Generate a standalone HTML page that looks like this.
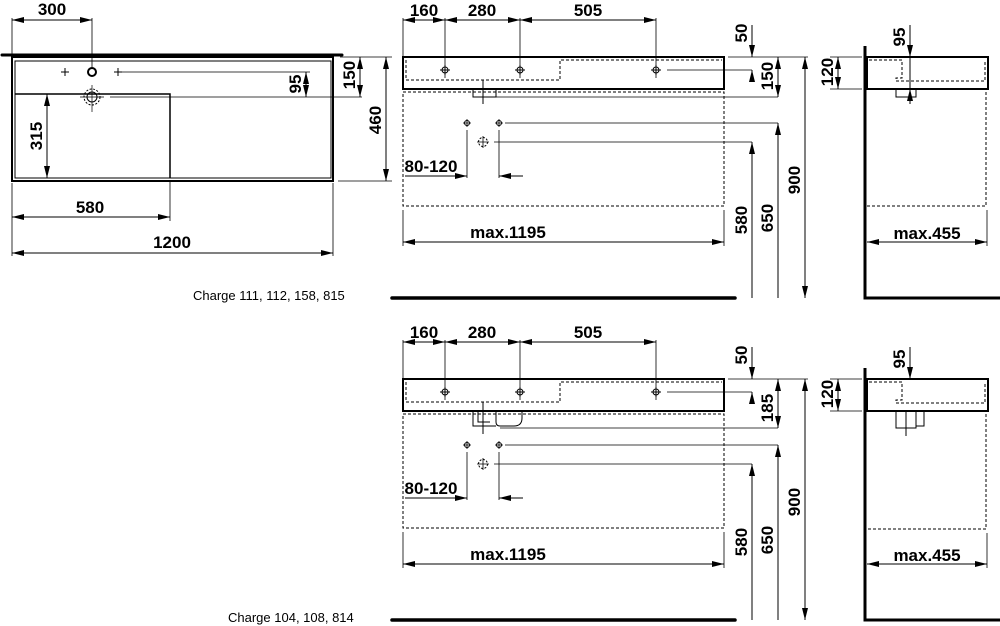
<!DOCTYPE html>
<html><head><meta charset="utf-8"><style>
html,body{margin:0;padding:0;background:#fff;}
svg{display:block}
.d{font-family:"Liberation Sans",sans-serif;font-weight:bold;font-size:17px;fill:#000}
.c{font-family:"Liberation Sans",sans-serif;font-size:13px;fill:#000}
</style></head><body>
<svg width="1000" height="626" viewBox="0 0 1000 626" xmlns="http://www.w3.org/2000/svg">
<defs>
<marker id="a" viewBox="0 0 12 6" refX="12" refY="3" markerWidth="12" markerHeight="6" markerUnits="userSpaceOnUse" orient="auto-start-reverse"><path d="M0,0L12,3L0,6z" fill="#000"/></marker>
</defs>
<g fill="none" stroke="#000" stroke-width="1">
<line x1="2" y1="55" x2="342" y2="55" stroke-width="3" stroke-linecap="round"/>
<rect x="12" y="57" width="321" height="124" stroke-width="2"/>
<rect x="15" y="61" width="316" height="117"/>
<polyline points="15,94 170,94 170,178" stroke-width="1.5"/>
<path d="M61,72h8M65,68v8M114,72h8M118,68v8"/>
<circle cx="92" cy="72" r="4" stroke-width="2"/>
<circle cx="92" cy="97" r="8" stroke-dasharray="2,1.5"/>
<circle cx="92" cy="97" r="5"/>
<path d="M80,97h24M92,85v27" stroke-width="0.7"/>
<path d="M122,72H310M110,97H362" stroke-width="0.8"/>
<path d="M12,18V55M92,18V68M12,183V256M170,180V221M333,183V256M340,57H392M338,181H392" stroke-width="0.8"/>
<line x1="12" y1="20" x2="92" y2="20" marker-start="url(#a)" marker-end="url(#a)"/>
<line x1="306" y1="72" x2="306" y2="97" marker-start="url(#a)" marker-end="url(#a)"/>
<line x1="360" y1="57" x2="360" y2="97" marker-start="url(#a)" marker-end="url(#a)"/>
<line x1="386" y1="57" x2="386" y2="181" marker-start="url(#a)" marker-end="url(#a)"/>
<line x1="47" y1="94" x2="47" y2="178" marker-start="url(#a)" marker-end="url(#a)"/>
<line x1="12" y1="217" x2="170" y2="217" marker-start="url(#a)" marker-end="url(#a)"/>
<line x1="12" y1="253" x2="333" y2="253" marker-start="url(#a)" marker-end="url(#a)"/>
<line x1="392" y1="298" x2="735" y2="298" stroke-width="3.5" stroke-linecap="round"/>

<g id="front">
<rect x="403" y="57" width="321" height="32" stroke-width="2"/>
<path d="M406,60V80H560V60H722" stroke-dasharray="3,2"/>
<path d="M403,92H724V206H403Z" stroke-dasharray="3,2"/>
<path d="M403,18V57M445,18V78M520,18V78M656,18V78" stroke-width="0.8"/>
<line x1="403" y1="20" x2="445" y2="20" marker-start="url(#a)" marker-end="url(#a)"/>
<line x1="445" y1="20" x2="520" y2="20" marker-start="url(#a)" marker-end="url(#a)"/>
<line x1="520" y1="20" x2="656" y2="20" marker-start="url(#a)" marker-end="url(#a)"/>
<path d="M440,70h10M445,65v10M515,70h10M520,65v10M651,70h10M656,65v10"/>
<circle cx="445" cy="70" r="3"/><circle cx="520" cy="70" r="3"/><circle cx="656" cy="70" r="3"/>
<path d="M667,70H752" stroke-width="0.8"/>
<circle cx="467" cy="123" r="2.5"/><circle cx="499" cy="123" r="2.5"/><circle cx="483" cy="142" r="4.5" stroke-dasharray="2,1.5"/>
<path d="M463,123h8M467,119v8M495,123h8M499,119v8M477,142h12M483,136v12" stroke-width="0.8"/>
<path d="M505,123H778M494,142H752M467,130V178M499,130V178" stroke-width="0.8"/>
<line x1="405" y1="176" x2="467" y2="176" marker-end="url(#a)"/>
<line x1="523" y1="176" x2="499" y2="176" marker-end="url(#a)"/>
<path d="M403,210V246M724,210V246" stroke-width="0.8"/>
<line x1="403" y1="242" x2="724" y2="242" marker-start="url(#a)" marker-end="url(#a)"/>
<path d="M728,57H808" stroke-width="0.8"/>
<line x1="752" y1="25" x2="752" y2="57" marker-end="url(#a)"/>
<line x1="752" y1="298" x2="752" y2="142" marker-end="url(#a)"/>
<line x1="778" y1="298" x2="778" y2="123" marker-end="url(#a)"/>
<line x1="805" y1="57" x2="805" y2="298" marker-start="url(#a)" marker-end="url(#a)"/>
</g>
<path d="M473,89V97H496V89M483,80V104" />
<path d="M496,97H778" stroke-width="0.8"/>
<line x1="752" y1="82" x2="752" y2="70" marker-end="url(#a)"/>
<line x1="778" y1="57" x2="778" y2="97" marker-start="url(#a)" marker-end="url(#a)"/>

<path d="M865,46V298H1000" stroke-width="3"/>
<rect x="867" y="57" width="121" height="32" stroke-width="2"/>
<path d="M869,60H902V78H896V81H985V60" stroke-dasharray="3,2"/>
<path d="M986,92V206H867" stroke-dasharray="3,2"/>
<path d="M896,89V97H916V89M910,25V104" stroke-width="1"/>
<line x1="910" y1="25" x2="910" y2="57" marker-end="url(#a)"/>
<line x1="910" y1="100" x2="910" y2="89" marker-end="url(#a)"/>
<path d="M830,57H862M830,89H862" stroke-width="0.8"/>
<line x1="838" y1="57" x2="838" y2="89" marker-start="url(#a)" marker-end="url(#a)"/>
<path d="M987,210V246" stroke-width="0.8"/>
<line x1="867" y1="242" x2="987" y2="242" marker-start="url(#a)" marker-end="url(#a)"/>

<use href="#front" transform="translate(0,322)"/>
<path d="M473,411V426H496M478,411V422H490M496,411V422Q496,426 500,426H514Q522,426 522,418V411M483,402V434"/>
<path d="M500,428H778" stroke-width="0.8"/>
<line x1="752" y1="404" x2="752" y2="392" marker-end="url(#a)"/>
<line x1="778" y1="379" x2="778" y2="428" marker-start="url(#a)" marker-end="url(#a)"/>
<line x1="392" y1="620" x2="735" y2="620" stroke-width="3.5" stroke-linecap="round"/>

<path d="M865,368V620H1000" stroke-width="3"/>
<rect x="867" y="379" width="121" height="32" stroke-width="2"/>
<path d="M869,382H902V400H896V403H985V382" stroke-dasharray="3,2"/>
<path d="M986,414V529H867" stroke-dasharray="3,2"/>
<path d="M896,411V428H916V411M916,411V426H924V411M906,411V436"/>
<line x1="910" y1="347" x2="910" y2="379" marker-end="url(#a)"/>
<path d="M830,379H862M830,411H862" stroke-width="0.8"/>
<line x1="838" y1="379" x2="838" y2="411" marker-start="url(#a)" marker-end="url(#a)"/>
<path d="M987,533V568" stroke-width="0.8"/>
<line x1="867" y1="564" x2="987" y2="564" marker-start="url(#a)" marker-end="url(#a)"/>
</g>

<g class="d" text-anchor="middle">
<text x="52" y="15">300</text>
<text x="90" y="213">580</text>
<text x="172" y="248">1200</text>
<text transform="translate(42,136) rotate(-90)">315</text>
<text transform="translate(301,84) rotate(-90)">95</text>
<text transform="translate(355,75) rotate(-90)">150</text>
<text transform="translate(381,120) rotate(-90)">460</text>

<text x="424" y="16">160</text><text x="482" y="16">280</text><text x="588" y="16">505</text>
<text x="431" y="172">80-120</text>
<text x="508" y="238">max.1195</text>
<text transform="translate(747,33) rotate(-90)">50</text>
<text transform="translate(773,76) rotate(-90)">150</text>
<text transform="translate(747,220) rotate(-90)">580</text>
<text transform="translate(773,218) rotate(-90)">650</text>
<text transform="translate(800,180) rotate(-90)">900</text>
<text transform="translate(905,37) rotate(-90)">95</text>
<text transform="translate(833,72) rotate(-90)">120</text>
<text x="927" y="239">max.455</text>

<text x="424" y="338">160</text><text x="482" y="338">280</text><text x="588" y="338">505</text>
<text x="431" y="494">80-120</text>
<text x="508" y="560">max.1195</text>
<text transform="translate(747,355) rotate(-90)">50</text>
<text transform="translate(773,408) rotate(-90)">185</text>
<text transform="translate(747,542) rotate(-90)">580</text>
<text transform="translate(773,540) rotate(-90)">650</text>
<text transform="translate(800,502) rotate(-90)">900</text>
<text transform="translate(905,359) rotate(-90)">95</text>
<text transform="translate(833,394) rotate(-90)">120</text>
<text x="927" y="561">max.455</text>
</g>
<text class="c" x="193" y="300">Charge 111, 112, 158, 815</text>
<text class="c" x="228" y="622">Charge 104, 108, 814</text>
</svg>
</body></html>
